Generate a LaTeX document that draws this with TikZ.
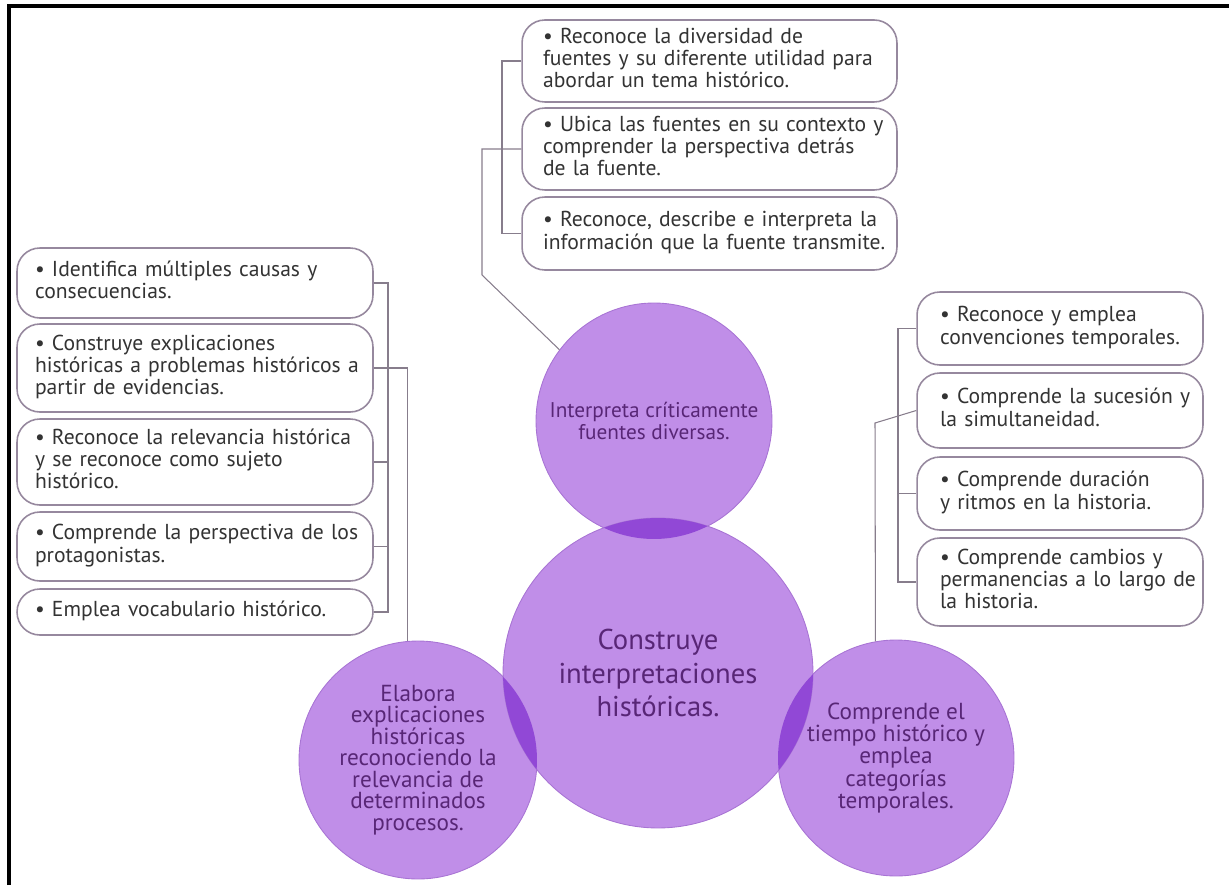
\documentclass[tikz,border=0pt]{standalone}
\usepackage{fontspec}
\setmainfont{PT Sans}
\usetikzlibrary{positioning}

\definecolor{lila}{RGB}{192,142,232}
\definecolor{lilaosc}{RGB}{145,72,214}
\definecolor{lilaborde}{RGB}{168,116,212}
\definecolor{lilatexto}{RGB}{88,38,118}
\definecolor{gris}{RGB}{150,136,158}
\definecolor{linea}{RGB}{135,125,140}

% renglones sin corte automatico
\newcommand{\filas}[1]{\begin{tabular}{@{}l@{}}#1\end{tabular}}

\begin{document}
\begin{tikzpicture}[
  x=0.02cm, y=-0.02cm,
  font=\fontsize{12.3}{12.7}\selectfont,
  caja/.style={draw=gris, line width=0.9pt, rounded corners=13pt, fill=white,
               text=black!80, align=left, inner ysep=2pt},
  cajatop/.style={caja, inner xsep=0.42cm, text width=6.66cm},
  cajaizq/.style={caja, inner xsep=0.36cm, text width=6.4cm},
  cajader/.style={caja, inner xsep=0.46cm, text width=4.8cm},
  circ/.style={circle, fill=lila, draw=lilaborde, line width=0.5pt,
               text=lilatexto, align=center, inner sep=0pt},
  enlace/.style={draw=linea, line width=0.6pt},
]
\useasboundingbox (0,0) rectangle (1229,885);
\draw[line width=2.3pt] (9,885) -- (9,6) -- (1229,6);

% circulos
\node[circ, minimum size=4.72cm, font=\fontsize{12.1}{12}\selectfont] (ctop) at (654,421)
  {Interpreta críticamente\\fuentes diversas.};
\node[circ, minimum size=4.76cm, font=\fontsize{13.2}{12.2}\selectfont] (cleft) at (418,760)
  {Elabora\\explicaciones\\históricas\\reconociendo la\\relevancia de\\determinados\\procesos.};
\node[circ, minimum size=4.72cm, font=\fontsize{13.2}{12.6}\selectfont] (cright) at (896,758)
  {Comprende el\\tiempo histórico y\\emplea\\categorías\\temporales.};
\node[circ, minimum size=6.2cm, font=\fontsize{16.3}{19}\selectfont] (ccore) at (658,673)
  {Construye\\interpretaciones\\históricas.};

% intersecciones
\begin{scope}
  \clip (ccore) circle[radius=3.1cm];
  \fill[lilaosc] (ctop) circle[radius=2.36cm];
  \fill[lilaosc] (cleft) circle[radius=2.38cm];
  \fill[lilaosc] (cright) circle[radius=2.36cm];
\end{scope}

% fuentes
\node[cajatop, minimum height=1.64cm] (tb1) at (709.5,61)
  {\filas{• Reconoce la diversidad de\\fuentes y su diferente utilidad para\\abordar un tema histórico.}};
\node[cajatop, minimum height=1.64cm] (tb2) at (709.5,149)
  {\filas{• Ubica las fuentes en su contexto y\\comprender la perspectiva detrás\\de la fuente.}};
\node[cajatop, minimum height=1.46cm] (tb3) at (709.5,233.5)
  {\filas{• Reconoce, describe e interpreta la\\información que la fuente transmite.}};

% explicaciones
\node[cajaizq, minimum height=1.4cm]  (lb1) at (195,283) {\filas{• Identifica múltiples causas y\\consecuencias.}};
\node[cajaizq, minimum height=1.76cm] (lb2) at (195,368)
  {\filas{• Construye explicaciones\\históricas a problemas históricos a\\partir de evidencias.}};
\node[cajaizq, minimum height=1.72cm] (lb3) at (195,462)
  {\filas{• Reconoce la relevancia histórica\\y se reconoce como sujeto\\histórico.}};
\node[cajaizq, minimum height=1.38cm] (lb4) at (195,546.5) {\filas{• Comprende la perspectiva de los\\protagonistas.}};
\node[cajaizq, minimum height=0.92cm] (lb5) at (195,612) {\filas{• Emplea vocabulario histórico.}};

% tiempo
\node[cajader, minimum height=1.46cm] (rb1) at (1060,328.5) {\filas{• Reconoce y emplea\\convenciones temporales.}};
\node[cajader, minimum height=1.5cm]  (rb2) at (1060,410.5) {\filas{• Comprende la sucesión y\\la simultaneidad.}};
\node[cajader, minimum height=1.46cm] (rb3) at (1060,493.5) {\filas{• Comprende duración\\y ritmos en la historia.}};
\node[cajader, minimum height=1.76cm] (rb4) at (1060,582)
  {\filas{• Comprende cambios y\\permanencias a lo largo de\\la historia.}};

\coordinate (tbar) at (502,0);
\coordinate (tbend) at (482,275);
\coordinate (lbar) at (388,0);
\coordinate (rbar) at (898,0);
\coordinate (rbend) at (875,423);

\draw[enlace] (tb1.west) -- (tb1.west -| tbar) -- (tb3.west -| tbar) -- (tb3.west);
\draw[enlace] (tb2.west) -- (tb2.west -| tbend) -- (tbend) -- (ctop.143);

\draw[enlace] (lb1.east) -- (lb1.east -| lbar) -- (lb5.east -| lbar) -- (lb5.east);
\foreach \b in {lb3,lb4}
  \draw[enlace] (\b.east) -- (\b.east -| lbar);
\draw[enlace] (lb2.east) -| (cleft.95);

\draw[enlace] (rb1.west) -- (rb1.west -| rbar) -- (rb4.west -| rbar) -- (rb4.west);
\draw[enlace] (rb3.west) -- (rb3.west -| rbar);
\draw[enlace] (rb2.west) -- (rbend) -- (cright.100);
\end{tikzpicture}
\end{document}
